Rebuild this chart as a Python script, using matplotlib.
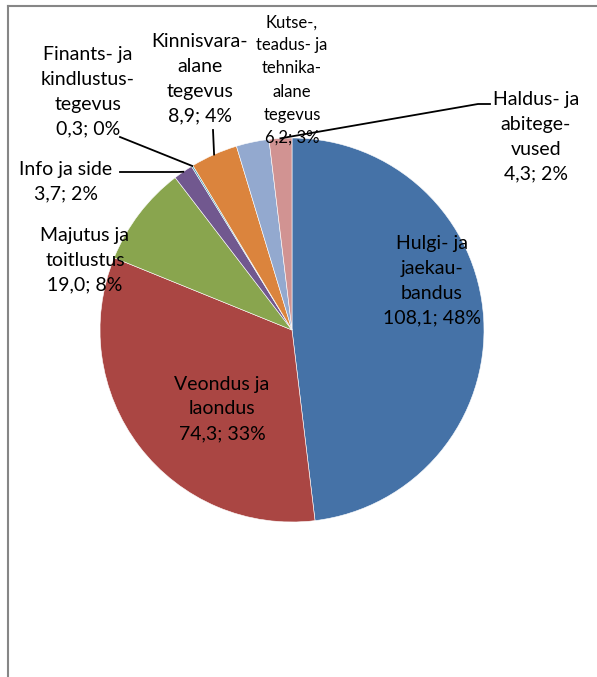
import matplotlib.pyplot as plt
import numpy as np

plt.rcParams['font.family'] = ['Lato', 'DejaVu Sans']

# andmed
sektorid = ["Hulgi- ja\njaekau-\nbandus", "Veondus ja\nlaondus", "Majutus ja\ntoitlustus",
            "Info ja side", "Finants- ja\nkindlustus-\ntegevus", "Kinnisvara-\nalane\ntegevus",
            "Kutse-,\nteadus- ja\ntehnika-\nalane\ntegevus", "Haldus- ja\nabitege-\nvused"]
vaartused = [108.1, 74.3, 19.0, 3.7, 0.3, 8.9, 6.2, 4.3]
varvid = ["#4572A7", "#AA4643", "#89A54E", "#71588F", "#4198AF", "#DB843D", "#93A9CF", "#D19392"]

W, H = 597, 677
CX, CY, R = 292, 330, 192

# sildi asukoht (px), fondi suurus, juhtjoon
sildid = [
    ((432, 281), 14, None),
    ((222, 409), 14, None),
    ((85, 260), 14, None),
    ((66, 182), 14, [(120, 172), (178, 172)]),
    ((88, 92), 14, [(120, 137)]),
    ((200, 79), 14, [(213, 130)]),
    ((292, 80), 12, None),
    ((536, 137), 14, [(490, 104), (478, 104)]),
]

fig = plt.figure(figsize=(W / 100, H / 100), dpi=100)
ax = fig.add_axes([0, 0, 1, 1])

kokku = sum(vaartused)
wedges, _ = ax.pie(vaartused, colors=varvid, startangle=-90, counterclock=True,
                   center=(CX, CY), radius=R,
                   wedgeprops=dict(edgecolor='white', linewidth=0.4))

ax.set_xlim(0, W)
ax.set_ylim(H, 0)
ax.set_aspect('equal')
ax.axis('off')

for w, nimi, v, (pos, fs, joon) in zip(wedges, sektorid, vaartused, sildid):
    protsent = round(v / kokku * 100)
    tekst = f"{nimi}\n{str(v).replace('.', ',')}; {protsent}%"
    ax.text(pos[0], pos[1], tekst, ha='center', va='center', fontsize=fs,
            linespacing=1.55, color='black')
    if joon:
        nurk = np.radians((w.theta1 + w.theta2) / 2)
        px = CX + R * np.cos(nurk)
        py = CY + R * np.sin(nurk)
        xs = [p[0] for p in joon] + [px]
        ys = [p[1] for p in joon] + [py]
        ax.plot(xs, ys, color='black', linewidth=1.3)

# diagrammi raam
ax.plot([8, 8], [H, 6], color='#868686', linewidth=1.5)
ax.plot([8, W], [6, 6], color='#868686', linewidth=1.5)

plt.savefig('out.png', dpi=100)
